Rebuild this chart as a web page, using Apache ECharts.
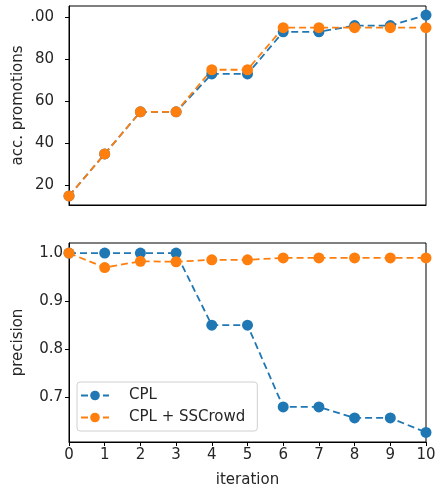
<!DOCTYPE html>
<html>
<head>
<meta charset="utf-8">
<script src="https://cdn.jsdelivr.net/npm/echarts@6/dist/echarts.min.js"></script>
<style>
  html, body { margin: 0; padding: 0; background: #fff; }
  #chart { width: 435px; height: 493px; }
</style>
</head>
<body>
<div id="chart"></div>
<script>
// iterations 0..10
const iterations = [0, 1, 2, 3, 4, 5, 6, 7, 8, 9, 10]
const seriesNames = ['CPL', 'CPL + SSCrowd']

// top panel: accumulated promotions
const promoCPL = [15, 35, 55, 55, 73, 73, 93, 93, 96, 96, 101]
const promoSSC = [15, 35, 55, 55, 75, 75, 95, 95, 95, 95, 95]

// bottom panel: precision
const precCPL = [1.0, 1.0, 1.0, 1.0, 0.85, 0.85, 0.68, 0.68, 0.657, 0.657, 0.627]
const precSSC = [1.0, 0.97, 0.983, 0.982, 0.986, 0.986, 0.99, 0.99, 0.99, 0.99, 0.99]

const promoTicks = [20, 40, 60, 80, 100]
const precTicks = [0.7, 0.8, 0.9, 1.0]
const iterTicks = [0, 1, 2, 3, 4, 5, 6, 7, 8, 9, 10]

const blue = '#1f77b4'
const orange = '#ff7f0e'
const font = 'DejaVu Sans'

const pairs = (ys) => iterations.map((x, i) => [x, ys[i]])

const lineSeries = (name, color, data, idx) => ({
  name: name,
  type: 'line',
  xAxisIndex: idx,
  yAxisIndex: idx,
  data: data,
  symbol: 'circle',
  symbolSize: 11,
  showSymbol: true,
  clip: true,
  itemStyle: { color: color },
  lineStyle: { color: color, width: 1.8, type: [7, 4] },
  emphasis: { disabled: true },
  animation: false
})

const chart = echarts.init(document.getElementById('chart'))
const tickStyle = { show: true, inside: false, length: 4, lineStyle: { color: '#000', width: 1 } }
const labelStyle = { color: '#262626', fontFamily: font, fontSize: 15, margin: 6 }

const option = {
  animation: false,
  grid: [
    { left: 69, top: 6, width: 357, height: 199, outerBoundsMode: 'none', show: true, borderColor: '#000', borderWidth: 1, backgroundColor: 'transparent' },
    { left: 69, top: 243, width: 357, height: 199, outerBoundsMode: 'none', show: true, borderColor: '#000', borderWidth: 1, backgroundColor: 'transparent' }
  ],
  legend: {
    data: seriesNames,
    orient: 'vertical',
    left: 77,
    top: 382,
    padding: [6, 12, 6, 3],
    itemGap: 7,
    itemWidth: 28,
    itemHeight: 12,
    borderColor: '#d0d0d0',
    borderWidth: 1,
    borderRadius: 3,
    backgroundColor: 'rgba(255,255,255,0.8)',
    textStyle: { fontFamily: font, fontSize: 15, color: '#262626', padding: [0, 0, 0, 15], lineHeight: 15 }
  },
  xAxis: [
    {
      type: 'value', gridIndex: 0, min: 0, max: 10,
      axisLine: { show: true, lineStyle: { color: '#000' } },
      axisTick: { show: false },
      axisLabel: { show: false },
      splitLine: { show: false }
    },
    {
      type: 'value', gridIndex: 1, min: 0, max: 10, interval: 1,
      name: 'iteration', nameLocation: 'middle', nameGap: 31, nameMoveOverlap: false,
      nameTextStyle: { fontFamily: font, fontSize: 15, color: '#262626' },
      axisLine: { show: true, lineStyle: { color: '#000' } },
      axisTick: Object.assign({ customValues: iterTicks }, tickStyle),
      axisLabel: Object.assign({ customValues: iterTicks, showMinLabel: true, showMaxLabel: true }, labelStyle),
      splitLine: { show: false }
    }
  ],
  yAxis: [
    {
      type: 'value', gridIndex: 0, min: 10.7, max: 105.3,
      name: 'acc. promotions', nameLocation: 'middle', nameGap: 43, nameMoveOverlap: false,
      nameTextStyle: { fontFamily: font, fontSize: 15, color: '#262626' },
      axisLine: { show: true, lineStyle: { color: '#000' } },
      axisTick: Object.assign({ customValues: promoTicks }, tickStyle),
      axisLabel: Object.assign({
        customValues: promoTicks,
        formatter: v => (v === 100 ? '.00' : String(v))
      }, labelStyle, { margin: 15 }),
      splitLine: { show: false }
    },
    {
      type: 'value', gridIndex: 1, min: 0.607, max: 1.021,
      name: 'precision', nameLocation: 'middle', nameGap: 43, nameMoveOverlap: false,
      nameTextStyle: { fontFamily: font, fontSize: 15, color: '#262626' },
      axisLine: { show: true, lineStyle: { color: '#000' } },
      axisTick: Object.assign({ customValues: precTicks }, tickStyle),
      axisLabel: Object.assign({
        customValues: precTicks,
        formatter: v => v.toFixed(1)
      }, labelStyle),
      splitLine: { show: false }
    }
  ],
  series: [
    lineSeries(seriesNames[0], blue, pairs(promoCPL), 0),
    lineSeries(seriesNames[1], orange, pairs(promoSSC), 0),
    lineSeries(seriesNames[0], blue, pairs(precCPL), 1),
    lineSeries(seriesNames[1], orange, pairs(precSSC), 1)
  ]
}

chart.setOption(option)
</script>
</body>
</html>
